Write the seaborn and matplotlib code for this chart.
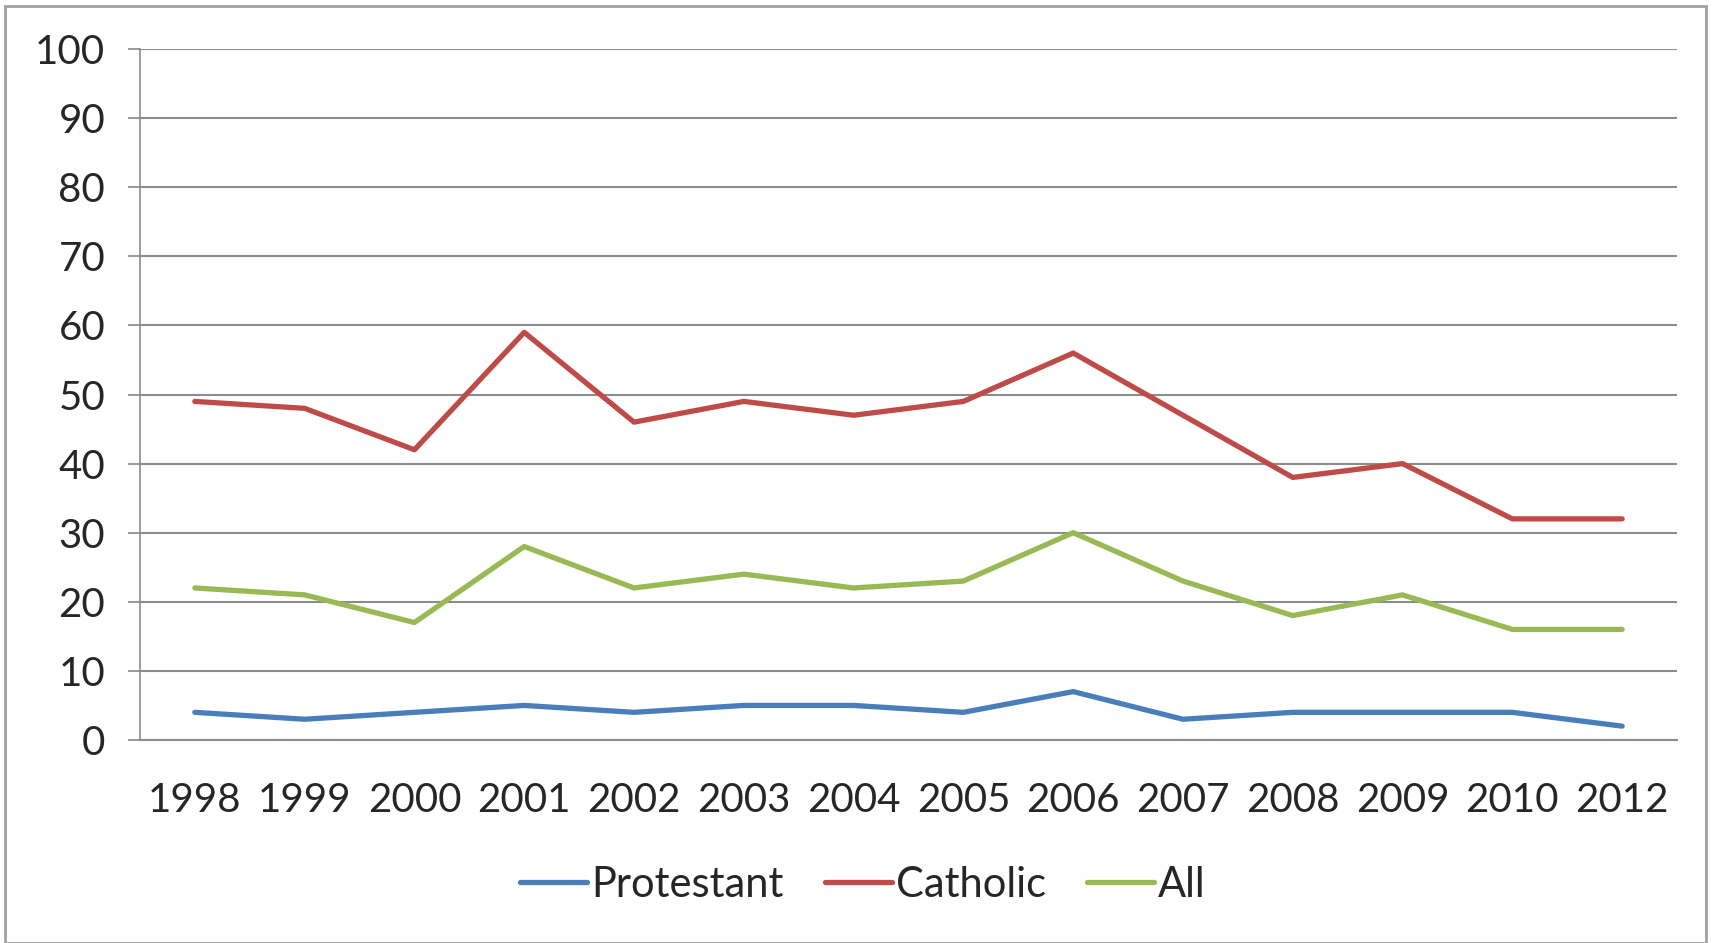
import numpy as np
import pandas as pd
import matplotlib
matplotlib.use("Agg")
import matplotlib.pyplot as plt
import seaborn as sns
from matplotlib.patches import Rectangle
from matplotlib.ticker import FixedLocator

# data
years = ["1998", "1999", "2000", "2001", "2002", "2003", "2004",
         "2005", "2006", "2007", "2008", "2009", "2010", "2012"]
protestant = [4, 3, 4, 5, 4, 5, 5, 4, 7, 3, 4, 4, 4, 2]
catholic = [49, 48, 42, 59, 46, 49, 47, 49, 56, 47, 38, 40, 32, 32]
all_people = [22, 21, 17, 28, 22, 24, 22, 23, 30, 23, 18, 21, 16, 16]

series_names = ["Protestant", "Catholic", "All"]
colors = ["#4A7EBB", "#BE4B48", "#98B954"]

df = pd.DataFrame({
    "pos": list(range(len(years))) * 3,
    "value": protestant + catholic + all_people,
    "group": [n for n in series_names for _ in years],
})

sns.set_style("white")
plt.rcParams["font.family"] = ["Lato", "DejaVu Sans"]

fig = plt.figure(figsize=(17.13, 9.43), dpi=100)
ax = fig.add_axes([0.0817, 0.2153, 0.979 - 0.0817, 0.948 - 0.2153])

sns.lineplot(data=df, x="pos", y="value", hue="group", hue_order=series_names,
             palette=colors, linewidth=3.8, ax=ax, legend=True)

ax.set_xlim(-0.5, len(years) - 0.5)
ax.set_ylim(0, 100)
ax.set_yticks(np.arange(0, 101, 10))
ax.set_xticks(range(len(years)))
ax.set_xticklabels(years)
ax.xaxis.set_minor_locator(FixedLocator(np.arange(-0.5, len(years), 1)))
ax.tick_params(axis="x", which="major", length=0, pad=30, labelsize=29)
ax.tick_params(axis="x", which="minor", length=10, width=1.2, color="#888888", direction="out")
ax.tick_params(axis="y", length=9, width=1.2, color="#888888", pad=16, labelsize=29, left=True)
ax.grid(axis="y", color="#8c8c8c", linewidth=1.5)
ax.set_axisbelow(True)
ax.set_xlabel("")
ax.set_ylabel("")

for s in ["top", "right"]:
    ax.spines[s].set_visible(False)
ax.spines["left"].set_color("#8c8c8c")
ax.spines["left"].set_linewidth(1.2)
ax.spines["bottom"].set_color("#8c8c8c")
ax.spines["bottom"].set_linewidth(1.5)

handles, labels = ax.get_legend_handles_labels()
ax.legend(handles, labels, loc="center", bbox_to_anchor=(863 / 1713, 1 - 885 / 943),
          bbox_transform=fig.transFigure, ncol=3, frameon=False, fontsize=30,
          handlelength=1.6, handletextpad=0.1, columnspacing=1.0)

# outer chart frame
fig.patches.append(Rectangle((0.003, 0.0), 0.993, 0.994, transform=fig.transFigure,
                             fill=False, edgecolor="#a0a0a0", linewidth=2))

fig.savefig("out.png", dpi=100)
